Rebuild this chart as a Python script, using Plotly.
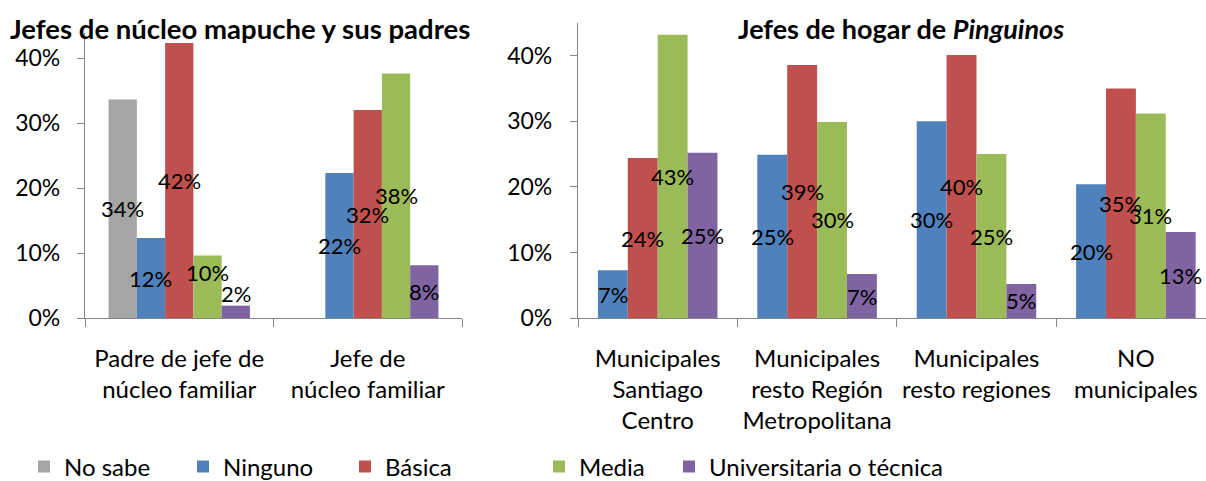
import plotly.graph_objects as go

# ---------------- data (percent) ----------------
left_categories = ["Padre de jefe de<br>núcleo familiar", "Jefe de<br>núcleo familiar"]
left_no_sabe = [33.6, None]
left_ninguno = [12.3, 22.3]
left_basica = [42.3, 32.0]
left_media = [9.6, 37.6]
left_univ = [1.9, 8.1]

right_categories = ["Municipales<br>Santiago<br>Centro", "Municipales<br>resto Región<br>Metropolitana",
                    "Municipales<br>resto regiones", "NO<br>municipales"]
right_ninguno = [7.3, 24.9, 30.0, 20.4]
right_basica = [24.4, 38.6, 40.1, 35.0]
right_media = [43.2, 29.9, 25.0, 31.2]
right_univ = [25.2, 6.7, 5.2, 13.1]

series_names = ["No sabe", "Ninguno", "Básica", "Media", "Universitaria o técnica"]
colors = ["#A5A5A5", "#4F81BD", "#C0504D", "#9BBB59", "#8064A2"]

# label nudges (pixels, upward) for crowded labels in the left chart
left_nudge = {(3, 0): 14, (4, 0): 18}

FONT = "Lato"
W, H = 1206, 481
BARGAP = 0.25

left_series = [left_no_sabe, left_ninguno, left_basica, left_media, left_univ]
right_series = [right_ninguno, right_basica, right_media, right_univ]

fig = go.Figure()
legend_ids = ["legend", "legend2", "legend3", "legend4", "legend5"]

for i, vals in enumerate(left_series):
    fig.add_trace(go.Bar(
        x=list(range(len(left_categories))), y=[None if v is None else v / 100 for v in vals],
        name=series_names[i], marker=dict(color=colors[i], line=dict(width=0)),
        xaxis="x", yaxis="y", offsetgroup=str(i), legend=legend_ids[i], showlegend=True,
        hoverinfo="skip", cliponaxis=False))
for j, vals in enumerate(right_series):
    i = j + 1
    fig.add_trace(go.Bar(
        x=list(range(len(right_categories))), y=[v / 100 for v in vals],
        name=series_names[i], marker=dict(color=colors[i], line=dict(width=0)),
        xaxis="x2", yaxis="y2", offsetgroup=str(i), showlegend=False, hoverinfo="skip"))

# data labels centred in bars
annotations = []
def add_labels(series_list, xref, yref, nudges=None):
    n = len(series_list)
    w = (1 - BARGAP) / n
    for k, vals in enumerate(series_list):
        for c, v in enumerate(vals):
            if v is None:
                continue
            xpos = c - (1 - BARGAP) / 2 + w * (k + 0.5)
            ys = (nudges or {}).get((k, c), 0)
            annotations.append(dict(x=xpos, y=v / 200, xref=xref, yref=yref, text=f"{v:.0f}%",
                                    showarrow=False, yshift=ys,
                                    font=dict(family=FONT, size=22, color="black")))

add_labels(left_series, "x", "y", left_nudge)
add_labels(right_series, "x2", "y2")

annotations.append(dict(x=8 / W, y=1 - 28 / H, xref="paper", yref="paper", xanchor="left",
                        yanchor="middle", showarrow=False,
                        text="<b>Jefes de núcleo mapuche y sus padres</b>",
                        font=dict(family=FONT, size=27.5, color="black")))
annotations.append(dict(x=901 / W, y=1 - 28 / H, xref="paper", yref="paper", xanchor="center",
                        yanchor="middle", showarrow=False,
                        text="<b>Jefes de hogar de <i>Pinguinos</i></b>",
                        font=dict(family=FONT, size=27, color="black")))

axis_color = "#868686"
xcommon = dict(type="linear", showgrid=False, zeroline=False, showline=True, linecolor=axis_color,
               linewidth=1.3, ticks="", automargin=False,
               tickfont=dict(family=FONT, size=24, color="black"), ticklabelstandoff=19,
               minor=dict(ticks="outside", ticklen=8, tickcolor=axis_color, tickmode="array"))
ycommon = dict(showgrid=False, zeroline=False, showline=True, linecolor=axis_color,
               linewidth=1.3, ticks="outside", ticklen=7, tickcolor=axis_color, tickformat=".0%",
               tickvals=[0, 0.1, 0.2, 0.3, 0.4], automargin=False,
               tickfont=dict(family=FONT, size=23, color="black"))

left_bounds = [c + 0.5 for c in range(-1, len(left_categories))]
right_bounds = [c + 0.5 for c in range(-1, len(right_categories))]

fig.update_layout(
    width=W, height=H, margin=dict(l=0, r=0, t=0, b=0, autoexpand=False),
    paper_bgcolor="white", plot_bgcolor="white",
    barmode="group", bargap=BARGAP, bargroupgap=0,
    xaxis=dict(**xcommon, domain=[85 / W, 462 / W], range=[-0.5, 1.5],
               tickmode="array", tickvals=list(range(len(left_categories))), ticktext=left_categories,
               anchor="y"),
    xaxis2=dict(**xcommon, domain=[578 / W, 1.0], range=[-0.5, 3.44],
                tickmode="array", tickvals=list(range(len(right_categories))), ticktext=right_categories,
                anchor="y2"),
    yaxis=dict(**ycommon, anchor="x", ticklabelstandoff=12, range=[0, 0.4385],
               domain=[(H - 318) / H, (H - 33) / H]),
    yaxis2=dict(**ycommon, anchor="x2", ticklabelstandoff=13, range=[0, 0.45],
                domain=[(H - 318) / H, (H - 23) / H]),
    annotations=annotations,
    font=dict(family=FONT, size=22, color="black"),
)
fig.layout.xaxis.minor.tickvals = left_bounds
fig.layout.xaxis2.minor.tickvals = right_bounds

text_starts = [64, 223, 385, 579, 709]
legend_layout = {}
for i, lid in enumerate(legend_ids):
    legend_layout[lid] = dict(x=(text_starts[i] - 40) / W, y=(H - 467) / H, xanchor="left",
                              yanchor="middle", orientation="h", bgcolor="rgba(0,0,0,0)",
                              font=dict(family=FONT, size=24, color="black"),
                              itemclick=False, itemdoubleclick=False)
fig.update_layout(**legend_layout)

fig.write_html("out.html", config={"displayModeBar": False},
               post_script="document.body.style.margin='0';document.body.style.overflow='hidden';")
